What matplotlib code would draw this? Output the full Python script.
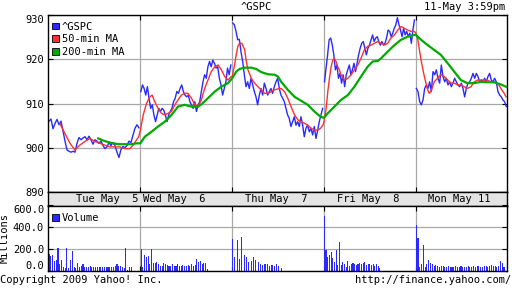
import numpy as np
import matplotlib
matplotlib.use("Agg")
import matplotlib.pyplot as plt
from matplotlib.patches import Patch

# x axis = trading minutes since Tue open, 390 minutes per session
day_len = 390
day_names = ["Tue May  5", "Wed May  6", "Thu May  7", "Fri May  8", "Mon May 11"]

# ^GSPC, one list per session (evenly spaced through the session)
gspc_tue = [906.0, 906.5, 904.3, 905.5, 906.4, 905.2, 906.0, 903.8, 901.5, 899.5, 899.2, 899.0,
            899.2, 899.0, 901.0, 902.3, 901.8, 902.2, 902.5, 901.8, 902.6, 901.8, 900.8, 901.8,
            901.5, 901.0, 901.5, 900.5, 899.8, 900.2, 901.2, 900.5, 901.2, 900.5, 899.0, 897.8,
            899.6, 900.3, 900.0, 900.5, 901.5, 901.2, 902.8, 904.4, 905.2, 904.5]
gspc_wed = [912.7, 914.2, 913.4, 911.9, 913.8, 911.2, 908.9, 909.7, 907.4, 905.9, 907.4, 908.9,
            908.2, 908.9, 908.5, 907.4, 905.9, 907.4, 908.2, 908.9, 910.4, 911.2, 912.7, 912.3,
            913.4, 914.2, 912.7, 911.9, 911.5, 911.9, 910.4, 909.7, 908.9, 910.4, 908.2, 909.7,
            910.4, 912.7, 914.9, 916.5, 915.7, 918.3, 919.5, 918.3, 919.8, 919.1, 918.0, 918.3,
            915.7, 914.2, 911.9, 913.4, 914.9, 918.0, 916.5, 918.7]
gspc_thu = [928.2, 927.8, 926.3, 924.4, 924.5, 921.7, 919.5, 916.5, 913.8, 914.9, 913.4, 915.7,
            914.2, 912.7, 911.5, 909.7, 911.9, 913.4, 911.9, 914.6, 913.4, 911.9, 912.7, 913.4,
            912.3, 913.8, 914.9, 915.7, 913.4, 911.9, 911.2, 910.4, 908.9, 907.4, 906.6, 904.8,
            905.9, 907.0, 905.1, 905.9, 904.8, 907.0, 905.1, 902.5, 904.4, 905.1, 903.6, 904.4,
            902.9, 904.8, 902.1, 903.9, 905.9, 907.4, 908.9]
gspc_fri = [914.9, 918.0, 921.0, 924.4, 924.8, 923.2, 921.0, 917.6, 918.7, 915.7, 916.8, 914.6,
            916.5, 913.8, 916.5, 917.6, 918.7, 916.5, 917.6, 919.1, 917.2, 919.1, 921.0, 922.5,
            923.6, 924.0, 922.5, 921.0, 922.5, 923.2, 924.4, 925.5, 924.0, 924.8, 925.1, 924.0,
            923.2, 924.0, 923.2, 923.6, 924.8, 926.6, 926.3, 925.1, 925.9, 927.0, 927.8, 929.4,
            927.8, 926.6, 925.1, 927.0, 925.5, 926.3, 925.1, 925.9, 923.6, 926.6, 928.9]
gspc_mon = [913.4, 912.7, 910.4, 909.7, 910.8, 913.4, 914.2, 913.4, 914.9, 912.7, 917.2, 916.5,
            917.6, 915.7, 914.6, 918.7, 916.1, 914.9, 915.7, 914.2, 914.9, 913.8, 914.6, 915.7,
            914.9, 914.2, 913.8, 914.6, 913.4, 911.5, 913.4, 914.6, 914.9, 915.7, 916.8, 915.7,
            916.8, 916.1, 914.9, 915.3, 914.9, 915.7, 914.9, 916.1, 916.8, 915.3, 914.9, 915.7,
            914.9, 912.7, 911.9, 911.5, 910.8, 910.4, 909.3]
gspc_days = [gspc_tue, gspc_wed, gspc_thu, gspc_fri, gspc_mon]

# 50-min moving average
ma50_t = [49, 71, 92, 113, 134, 155, 177, 198, 219, 240, 261, 283, 304, 325, 346, 360, 374, 384,
          391, 403, 417, 431, 441, 452, 466, 480, 495, 509, 523, 537, 551, 565, 579, 593, 608, 622,
          636, 650, 664, 678, 692, 707, 721, 735, 749, 763, 777,
          781, 791, 798, 805, 812, 822, 834, 841, 848, 862, 876, 890, 904, 918, 933, 947, 961, 975,
          989, 1003, 1017, 1031, 1046, 1060, 1074, 1088, 1102, 1116, 1130, 1145, 1156, 1166,
          1171, 1180, 1187, 1194, 1201, 1208, 1215, 1222, 1229, 1236, 1243, 1258, 1272, 1286, 1300,
          1314, 1328, 1342, 1356, 1371, 1385, 1399, 1413, 1427, 1441, 1455, 1470, 1484, 1498, 1512,
          1526, 1540, 1554,
          1561, 1568, 1575, 1583, 1590, 1597, 1604, 1611, 1618, 1625, 1632, 1639, 1653, 1667, 1681,
          1696, 1710, 1724, 1738, 1752, 1766, 1780, 1795, 1809, 1823, 1837, 1851, 1865, 1879, 1893,
          1908, 1922, 1936, 1944]
ma50_v = [905.5, 903.2, 901.0, 899.5, 900.6, 901.4, 902.1, 901.4, 901.0, 900.6, 900.2, 900.2,
          900.2, 899.8, 899.8, 900.6, 901.7, 902.5,
          904.0, 907.4, 910.0, 911.5, 911.9, 910.4, 908.9, 907.8, 907.4, 907.8, 908.2, 909.7, 910.8,
          911.9, 912.3, 912.3, 911.2, 909.7, 909.3, 910.8, 913.4, 915.3, 917.2, 918.3, 918.7, 917.6,
          916.1, 915.3, 916.1,
          916.1, 918.7, 921.0, 922.9, 923.6, 923.6, 922.1, 919.5, 917.6, 915.7, 914.6, 913.8, 913.1,
          912.3, 912.3, 912.7, 913.1, 913.3, 913.4, 912.7, 911.2, 909.3, 907.4, 906.3, 905.9, 905.5,
          905.1, 904.4, 904.0, 904.0, 904.4, 905.1,
          905.9, 908.9, 912.7, 915.7, 918.3, 919.8, 920.2, 919.5, 918.3, 917.6, 916.5, 915.3, 915.7,
          916.5, 917.6, 918.7, 920.2, 922.1, 922.9, 923.2, 923.6, 924.0, 923.6, 923.2, 923.6, 924.8,
          925.5, 926.6, 927.4, 927.0, 926.6, 926.3, 926.3,
          925.9, 924.8, 922.5, 919.8, 918.0, 916.1, 914.6, 913.1, 912.3, 912.7, 913.8, 914.9, 915.7,
          916.5, 916.1, 915.3, 914.6, 914.6, 914.2, 914.2, 913.8, 913.4, 913.8, 914.9, 915.3, 915.3,
          915.3, 915.3, 914.9, 914.9, 914.6, 913.4, 912.3, 911.5]

# 200-min moving average
ma200_t = [212, 240, 268, 297, 325, 353, 374, 384,
           391, 410, 438, 466, 495, 523, 551, 579, 608, 636, 650, 678, 707, 735, 763, 781,
           798, 812, 834, 862, 883, 904, 933, 961, 975, 989, 1017, 1046, 1074, 1102, 1130, 1152, 1166,
           1171, 1187, 1215, 1243, 1272, 1300, 1328, 1356, 1378, 1399, 1413, 1441, 1470, 1498, 1526, 1554,
           1561, 1583, 1611, 1639, 1667, 1696, 1724, 1752, 1780, 1809, 1837, 1865, 1893, 1922, 1944]
ma200_v = [902.1, 901.5, 901.1, 900.8, 900.8, 900.8, 901.0, 901.0,
           901.0, 902.5, 903.6, 904.8, 905.9, 907.4, 909.3, 909.7, 909.3, 909.3, 909.8, 911.2, 912.7,
           913.8, 914.6, 915.7,
           917.2, 917.8, 918.1, 918.1, 917.8, 917.1, 916.6, 916.5, 916.1, 914.9, 913.1, 911.5, 910.6,
           909.7, 908.2, 907.2, 906.8,
           906.8, 907.8, 909.3, 910.8, 911.9, 913.8, 916.1, 918.3, 919.5, 919.6, 920.2, 921.7, 923.2,
           924.4, 925.1, 925.5,
           925.5, 924.4, 923.2, 922.1, 921.0, 919.1, 917.2, 915.3, 914.6, 914.6, 914.9, 914.8, 914.8,
           914.3, 913.8]

# volume in millions, one list per session, with first/last bar minute
vol_tue = [160, 140, 150, 90, 100, 210, 65, 100, 35, 25, 215, 30, 100, 180, 35, 25, 70, 40, 45, 60,
           35, 40, 40, 45, 40, 40, 35, 40, 40, 35, 35, 40, 35, 40, 40, 35, 40, 45, 60, 50, 45, 40,
           30, 215, 10, 40, 35]
vol_wed = [200, 40, 150, 130, 140, 60, 200, 70, 70, 80, 60, 50, 50, 70, 60, 55, 50, 45, 60, 45, 45,
           60, 50, 45, 55, 50, 45, 55, 45, 60, 50, 55, 110, 80, 90, 60, 70, 70, 20]
vol_thu = [290, 130, 280, 110, 310, 150, 130, 80, 90, 130, 100, 80, 60, 55, 60, 60, 50, 55, 50, 60,
           45, 30]
vol_fri = [500, 190, 130, 150, 170, 115, 85, 190, 55, 270, 55, 80, 60, 40, 90, 50, 60, 70, 60, 55,
           60, 70, 60, 75, 80, 55, 65, 60, 55, 60, 50, 60, 50, 30]
vol_mon = [420, 300, 40, 60, 235, 40, 60, 100, 75, 60, 50, 55, 45, 40, 50, 45, 35, 40, 45, 40, 35,
           40, 45, 35, 40, 45, 40, 35, 40, 50, 40, 35, 45, 40, 50, 45, 40, 35, 45, 50, 40, 45, 55,
           45, 50, 40, 45, 90, 75, 40]
vol_days = [vol_tue, vol_wed, vol_thu, vol_fri, vol_mon]
vol_span = [(1, 350), (2, 283), (0, 207), (0, 236), (0, 373)]

blue = "#2a2aff"
red = "#ff3030"
green = "#00aa00"
grid = "#a8a8a8"

plt.rcParams["font.family"] = "DejaVu Sans Mono"
plt.rcParams["font.size"] = 7.5

fig = plt.figure(figsize=(5.12, 2.88), dpi=100)
W, H = 512, 288


def box(x0, y0, x1, y1):
    return [x0 / W, 1 - y1 / H, (x1 - x0) / W, (y1 - y0) / H]


ax = fig.add_axes(box(48.3, 15, 507, 192))
band = fig.add_axes(box(48.3, 192, 507, 205.5))
axv = fig.add_axes(box(48.3, 205.5, 507, 271))

xmax = 5 * day_len - 2
bounds = [day_len * i for i in range(1, 5)]

for d, vals in enumerate(gspc_days):
    t = np.linspace(d * day_len + 3, d * day_len + 385, len(vals))
    ax.plot(t, vals, color=blue, lw=1.0)
ax.plot(ma50_t, ma50_v, color=red, lw=1.0)
ax.plot(ma200_t, ma200_v, color=green, lw=1.6)

ax.set_xlim(0, xmax)
ax.set_ylim(890, 930)
ax.set_yticks([890, 900, 910, 920, 930])
ax.set_xticks(bounds)
ax.set_xticklabels([])
ax.grid(True, color=grid, lw=0.9)
ax.tick_params(direction="in", length=3.5, width=0.8, pad=3, right=True, top=True)
labs = ax.get_yticklabels()
labs[-1].set_va("top")

handles = [Patch(facecolor=blue, edgecolor="black", lw=0.6),
           Patch(facecolor=red, edgecolor="black", lw=0.6),
           Patch(facecolor=green, edgecolor="black", lw=0.6)]
ax.legend(handles, ["^GSPC", "50-min MA", "200-min MA"], loc="upper left",
          bbox_to_anchor=(0, 0.985), frameon=False, borderaxespad=0, borderpad=0.4,
          handlelength=0.6, handleheight=0.6, handletextpad=0.3, labelspacing=0.25)

# date band
band.set_facecolor("#e4e4e4")
band.set_xlim(0, xmax)
band.set_ylim(0, 1)
band.set_xticks([])
band.set_yticks([])
band.text(384, 0.45, day_names[0], ha="right", va="center")
band.text(401, 0.45, day_names[1], ha="left", va="center")
for d in range(2, 5):
    band.text(d * day_len + 187, 0.45, day_names[d], ha="center", va="center")

# volume
for d, vals in enumerate(vol_days):
    a, b = vol_span[d]
    t = np.linspace(d * day_len + a, d * day_len + b, len(vals))
    axv.bar(t, vals, width=4.6, color=blue, align="edge", lw=0)
axv.set_xlim(0, xmax)
axv.set_ylim(0, 600)
axv.set_yticks([0, 200, 400, 600])
axv.set_yticklabels(["0.0", "200.0", "400.0", "600.0"])
axv.set_xticks(bounds)
axv.set_xticklabels([])
axv.grid(True, color=grid, lw=0.9)
axv.set_axisbelow(True)
axv.tick_params(direction="in", length=3.5, width=0.8, pad=3, right=True, top=True)
vl = axv.get_yticklabels()
vl[0].set_va("bottom")
vl[-1].set_va("top")
axv.set_ylabel("Millions", labelpad=2)
axv.legend([Patch(facecolor=blue, edgecolor="black", lw=0.6)], ["Volume"], loc="upper left",
           bbox_to_anchor=(0, 0.947), frameon=False, borderaxespad=0, borderpad=0.4,
           handlelength=0.6, handleheight=0.6, handletextpad=0.3)

for a in (ax, band, axv):
    for s in a.spines.values():
        s.set_linewidth(1.0)
        s.set_color("black")

fig.text(256 / W, 1 - 7 / H, "^GSPC", ha="center", va="center")
fig.text(505 / W, 1 - 7 / H, "11-May 3:59pm", ha="right", va="center")
fig.text(0, 1 - 280 / H, "Copyright 2009 Yahoo! Inc.", ha="left", va="center")
fig.text(511 / W, 1 - 280 / H, "http://finance.yahoo.com/", ha="right", va="center")

fig.savefig("out.png", dpi=100)
